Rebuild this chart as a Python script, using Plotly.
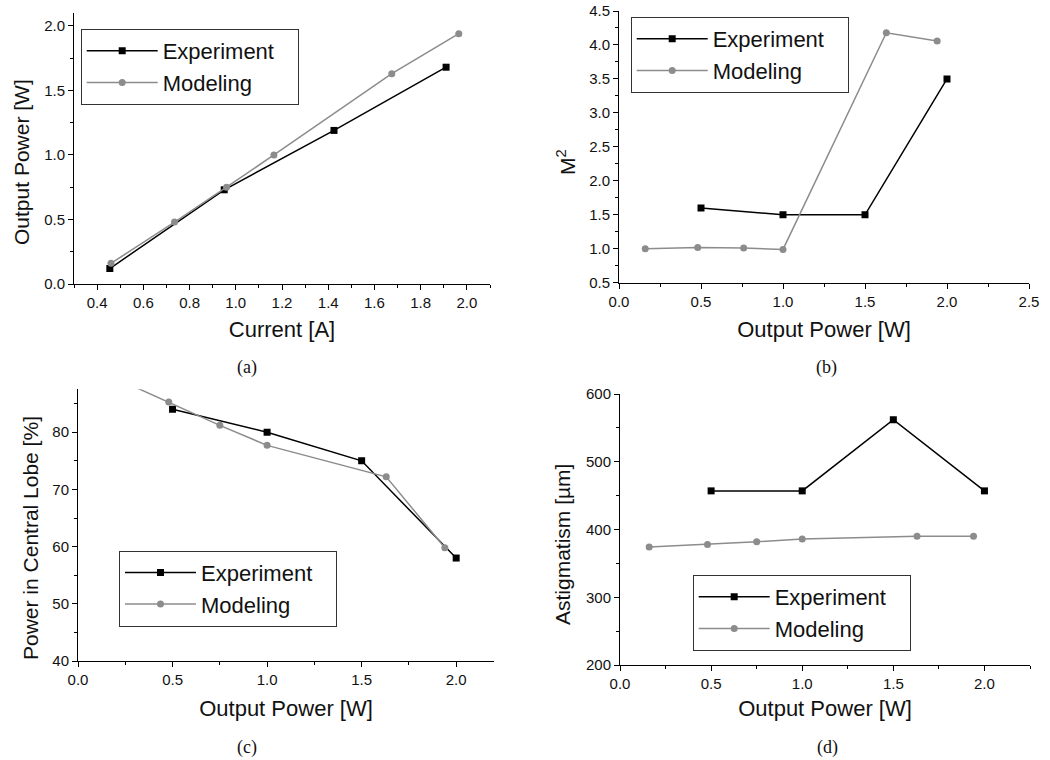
import plotly.graph_objects as go

# ---------------- data ----------------
# (a) Output power vs current
a_exp_x = [0.455, 0.95, 1.425, 1.91]
a_exp_y = [0.12, 0.73, 1.19, 1.68]
a_mod_x = [0.46, 0.735, 0.96, 1.165, 1.675, 1.965]
a_mod_y = [0.16, 0.48, 0.75, 1.00, 1.63, 1.94]

# (b) M^2 vs output power
b_exp_x = [0.5, 1.0, 1.5, 2.0]
b_exp_y = [1.6, 1.5, 1.5, 3.5]
b_mod_x = [0.16, 0.48, 0.76, 1.0, 1.63, 1.94]
b_mod_y = [1.00, 1.02, 1.01, 0.99, 4.18, 4.06]

# (c) Power in central lobe vs output power
c_exp_x = [0.5, 1.0, 1.5, 2.0]
c_exp_y = [84.0, 80.0, 75.0, 58.0]
c_mod_x = [0.16, 0.48, 0.75, 1.0, 1.63, 1.94]
c_mod_y = [90.0, 85.3, 81.2, 77.7, 72.2, 59.8]

# (d) Astigmatism vs output power
d_exp_x = [0.5, 1.0, 1.5, 2.0]
d_exp_y = [457, 457, 562, 457]
d_mod_x = [0.16, 0.48, 0.75, 1.0, 1.63, 1.94]
d_mod_y = [374, 378, 382, 386, 390, 390]

series_names = ["Experiment", "Modeling"]
captions = ["(a)", "(b)", "(c)", "(d)"]
x_titles = ["Current [A]", "Output Power [W]", "Output Power [W]", "Output Power [W]"]
y_titles = ["Output Power [W]", "M<sup>2</sup>", "Power in Central Lobe [%]", "Astigmatism [µm]"]

# ---------------- style ----------------
EXP_COLOR = "#000000"
MOD_COLOR = "#8c8c8c"
FONT = "Liberation Sans, Arial, sans-serif"
W, H = 1050, 760
PAD = "\u00a0\u00a0\u00a0"  # widens the legend box like the original

panels = [
    dict(ex=a_exp_x, ey=a_exp_y, mx=a_mod_x, my=a_mod_y, leg="legend"),
    dict(ex=b_exp_x, ey=b_exp_y, mx=b_mod_x, my=b_mod_y, leg="legend2"),
    dict(ex=c_exp_x, ey=c_exp_y, mx=c_mod_x, my=c_mod_y, leg="legend3"),
    dict(ex=d_exp_x, ey=d_exp_y, mx=d_mod_x, my=d_mod_y, leg="legend4"),
]

fig = go.Figure()
for i, p in enumerate(panels):
    sfx = "" if i == 0 else str(i + 1)
    fig.add_trace(go.Scatter(
        x=p["ex"], y=p["ey"], mode="lines+markers", name=series_names[0] + PAD,
        line=dict(color=EXP_COLOR, width=1.5),
        marker=dict(symbol="square", size=7, color=EXP_COLOR),
        xaxis="x" + sfx, yaxis="y" + sfx, legend=p["leg"]))
    fig.add_trace(go.Scatter(
        x=p["mx"], y=p["my"], mode="lines+markers", name=series_names[1],
        line=dict(color=MOD_COLOR, width=1.5),
        marker=dict(symbol="circle", size=7, color=MOD_COLOR),
        xaxis="x" + sfx, yaxis="y" + sfx, legend=p["leg"]))

def px_x(v):
    return v / W

def px_y(v):
    return 1 - v / H

def axis(domain, rng, dtick, minor, fmt, anchor, title=None, standoff=12):
    d = dict(
        domain=domain, range=rng, dtick=dtick, tick0=0, tickformat=fmt,
        showgrid=False, zeroline=False, showline=True, linecolor="black",
        linewidth=1, ticks="outside", ticklen=5, tickcolor="black",
        tickfont=dict(family=FONT, size=15, color="#111"),
        minor=dict(ticks="outside", ticklen=3, dtick=minor, tickcolor="black"),
        automargin=False, anchor=anchor, fixedrange=True,
    )
    if title:
        d["title"] = dict(text=title, font=dict(family=FONT, size=22, color="#111"),
                          standoff=standoff)
    return d

layout_axes = dict(
    xaxis=axis([px_x(74), px_x(490)], [0.3, 2.1], 0.2, 0.1, ".1f", "y", x_titles[0], 11),
    yaxis=axis([px_y(284), px_y(13)], [0, 2.1], 0.5, 0.25, ".1f", "x"),
    xaxis2=axis([px_x(619), px_x(1029)], [0, 2.5], 0.5, 0.25, ".1f", "y2", x_titles[1], 12),
    yaxis2=axis([px_y(282.7), px_y(11)], [0.5, 4.5], 0.5, 0.25, ".1f", "x2"),
    xaxis3=axis([px_x(78), px_x(494)], [0, 2.2], 0.5, 0.25, ".1f", "y3", x_titles[2], 13),
    yaxis3=axis([px_y(661), px_y(389.3)], [40, 87.5], 10, 5, "d", "x3"),
    xaxis4=axis([px_x(620), px_x(1030)], [0, 2.25], 0.5, 0.25, ".1f", "y4", x_titles[3], 9),
    yaxis4=axis([px_y(665), px_y(394)], [200, 600], 100, 50, "d", "x4"),
)

def legend(xpx, ypx):
    return dict(
        x=px_x(xpx), y=px_y(ypx), xanchor="left", yanchor="top",
        bgcolor="white", bordercolor="#333", borderwidth=1,
        font=dict(family=FONT, size=22, color="#111"),
        itemwidth=71, tracegroupgap=0,
    )

annotations = []
for cap, (cx, cy) in zip(captions, [(247, 367), (826, 367), (247, 747), (827, 747)]):
    annotations.append(dict(
        text=cap, x=px_x(cx), y=px_y(cy), xref="paper", yref="paper",
        xanchor="center", yanchor="middle", showarrow=False,
        font=dict(family="Liberation Serif, Times New Roman, serif", size=18, color="#111")))

# y-axis titles (placed like the original: slightly below the axis centre)
for t, (cx, cy) in zip(y_titles, [(21, 162), (566, 162), (30, 538), (562, 545)]):
    annotations.append(dict(
        text=t, x=px_x(cx), y=px_y(cy), xref="paper", yref="paper",
        xanchor="center", yanchor="middle", textangle=-90, showarrow=False,
        font=dict(family=FONT, size=21, color="#111")))

fig.update_layout(
    width=W, height=H, margin=dict(l=0, r=0, t=0, b=0),
    paper_bgcolor="white", plot_bgcolor="white",
    showlegend=True,
    legend=legend(80.7, 29),
    legend2=legend(630.7, 17),
    legend3=legend(119, 550.7),
    legend4=legend(692.7, 575),
    annotations=annotations,
    **layout_axes,
)

fig.write_html("out.html")
